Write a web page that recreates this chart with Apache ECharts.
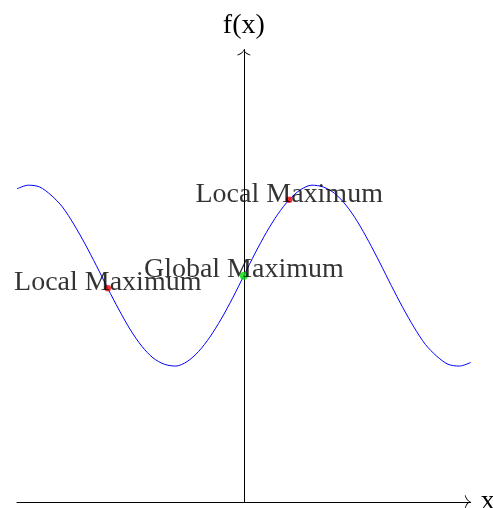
<!DOCTYPE html>
<html>
<head>
<meta charset="utf-8">
<script src="https://cdn.jsdelivr.net/npm/echarts@6/dist/echarts.min.js"></script>
<style>
  html, body { margin: 0; padding: 0; background: #fff; }
  #chart { width: 493px; height: 508px; }
</style>
</head>
<body>
<div id="chart"></div>
<script>
// curve samples (x in axis units)
const curveX = [-5, -4.75, -4.5, -4.25, -4, -3.75, -3.5, -3.25, -3, -2.75, -2.5, -2.25, -2, -1.75, -1.5, -1.25, -1, -0.75, -0.5, -0.25,
  0, 0.25, 0.5, 0.75, 1, 1.25, 1.5, 1.75, 2, 2.25, 2.5, 2.75, 3, 3.25, 3.5, 3.75, 4, 4.25, 4.5, 4.75, 5];
const curveY = [0.96, 1.00, 0.98, 0.89, 0.76, 0.57, 0.35, 0.11, -0.14, -0.38, -0.60, -0.78, -0.91, -0.98, -1.00, -0.95, -0.84, -0.68, -0.48, -0.25,
  0, 0.25, 0.48, 0.68, 0.84, 0.95, 1.00, 0.98, 0.91, 0.78, 0.60, 0.38, 0.14, -0.11, -0.35, -0.57, -0.76, -0.89, -0.98, -1.00, -0.96];

// marked points
const localX = [-3, 1];
const localY = [-0.14, 0.84];
const localNames = ['Local Maximum', 'Local Maximum'];
const globalX = [0];
const globalY = [0];
const globalNames = ['Global Maximum'];

const FONT = '"Liberation Serif", "Times New Roman", serif';

// thin open arrow head like tikz "->"
const arrowPath = 'path://M10,0 C11,3 14,6 20,8 L20,9.2 C13.5,7.4 11,4.8 10,2 C9,4.8 6.5,7.4 0,9.2 L0,8 C6,6 9,3 10,0 Z';

const chart = echarts.init(document.getElementById('chart'));

const pointLabel = {
  show: true,
  position: 'inside',
  offset: [0, -5.5],
  formatter: (p) => p.name,
  color: '#000',
  fontFamily: FONT,
  fontSize: 28,
};

const option = {
  animation: false,
  grid: { left: 17, right: 22.3, top: 49.5, bottom: 6.25, outerBoundsMode: 'none', containLabel: false },
  xAxis: {
    type: 'value',
    min: -5,
    max: 5,
    name: 'x',
    nameLocation: 'end',
    nameGap: 10,
    nameTextStyle: { fontFamily: FONT, fontSize: 28, color: '#000' },
    axisLine: {
      onZero: false,
      symbol: ['none', arrowPath],
      symbolSize: [13, 6],
      symbolOffset: [0, -3],
      lineStyle: { color: '#000', width: 1 },
    },
    axisTick: { show: false },
    axisLabel: { show: false },
    splitLine: { show: false },
  },
  yAxis: {
    type: 'value',
    min: -2.5,
    max: 2.5,
    name: 'f(x)',
    nameLocation: 'end',
    nameGap: 10,
    nameTextStyle: { fontFamily: FONT, fontSize: 28, color: '#000' },
    axisLine: {
      onZero: true,
      symbol: ['none', arrowPath],
      symbolSize: [13, 6],
      symbolOffset: [0, -3],
      lineStyle: { color: '#000', width: 1 },
    },
    axisTick: { show: false },
    axisLabel: { show: false },
    splitLine: { show: false },
  },
  series: [
    {
      type: 'line',
      data: curveX.map((x, i) => [x, curveY[i]]),
      smooth: 0.3,
      showSymbol: false,
      lineStyle: { color: '#0000ff', width: 1 },
      z: 2,
    },
    {
      type: 'scatter',
      data: localX.map((x, i) => ({ name: localNames[i], value: [x, localY[i]] })),
      symbolSize: 6.5,
      itemStyle: { color: '#ff0000' },
      label: pointLabel,
      z: 3,
    },
    {
      type: 'scatter',
      data: globalX.map((x, i) => ({ name: globalNames[i], value: [x, globalY[i]] })),
      symbolSize: 8,
      itemStyle: { color: '#00e000' },
      label: pointLabel,
      z: 3,
    },
  ],
};

chart.setOption(option);
</script>
</body>
</html>
